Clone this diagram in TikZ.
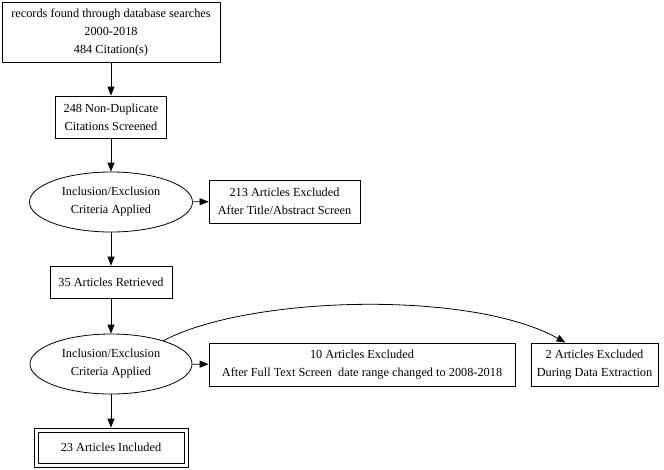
\documentclass[tikz,border=0pt]{standalone}
\usepackage{fontspec}
\setmainfont{Liberation Serif}
\usetikzlibrary{arrows.meta,shapes.geometric}
\begin{document}
\begin{tikzpicture}[x=1pt,y=-1pt,
  every node/.style={font=\fontsize{12.3}{18}\selectfont, align=center, inner sep=0pt, line width=0.8pt},
  box/.style={draw, rectangle},
  oval/.style={draw, ellipse},
  arr/.style={line width=0.8pt, -{Triangle[length=9pt,width=7pt]}}]
\useasboundingbox (0,0) rectangle (664,469);
\node[box, minimum width=218, minimum height=60] (r) at (111,32) {records found through database searches\\2000-2018\\484 Citation(s)};
\node[box, minimum width=111, minimum height=42] (nd) at (111,117) {248 Non-Duplicate\\Citations Screened};
\node[oval, minimum width=163, minimum height=60] (e1) at (111,202) {Inclusion/Exclusion\\Criteria Applied};
\node[box, minimum width=151, minimum height=43] (x1) at (284.5,201.5) {213 Articles Excluded\\After Title/Abstract Screen};
\node[box, minimum width=122, minimum height=32] (ar) at (111,282) {35 Articles Retrieved};
\node[oval, minimum width=162, minimum height=60] (e2) at (111,364) {Inclusion/Exclusion\\Criteria Applied};
\node[box, minimum width=306, minimum height=43] (x2) at (362,364.5) {10 Articles Excluded\\After Full Text Screen\ \ date range changed to 2008-2018};
\node[box, minimum width=127, minimum height=43] (x3) at (594.5,364.5) {2 Articles Excluded\\During Data Extraction};
\node[box, minimum width=154, minimum height=39] (inc) at (111,447.5) {};
\node[box, minimum width=146, minimum height=31] (inci) at (111,447.5) {23 Articles Included};
\draw[arr] (r) -- (nd);
\draw[arr] (nd) -- (e1);
\draw[arr] (e1) -- (x1);
\draw[arr] (e1) -- (ar);
\draw[arr] (ar) -- (e2);
\draw[arr] (e2) -- (x2);
\draw[arr] (e2) -- (inc.north);
\draw[arr] (e2.24) .. controls +(85,-45) and +(-95,-53) .. ([xshift=-29pt]x3.north);
\end{tikzpicture}
\end{document}
